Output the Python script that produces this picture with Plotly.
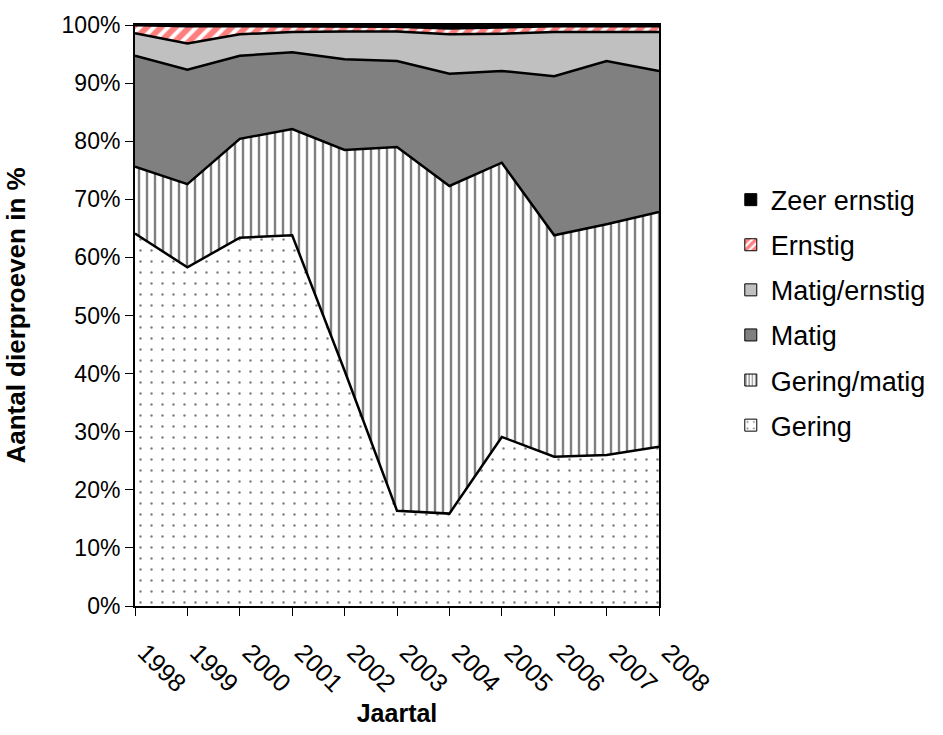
import plotly.graph_objects as go

years = [1998, 1999, 2000, 2001, 2002, 2003, 2004, 2005, 2006, 2007, 2008]
year_labels = [str(y) for y in years]
y_ticks = list(range(0, 101, 10))
y_tick_labels = [f"{v}%" for v in y_ticks]

# Values per category (percent of total)
gering = [64.1, 58.3, 63.4, 63.8, 40.5, 16.4, 15.9, 29.1, 25.7, 26.0, 27.4]
gering_matig = [11.5, 14.3, 17.0, 18.3, 38.0, 62.6, 56.4, 47.2, 38.1, 39.7, 40.4]
matig = [19.1, 19.7, 14.3, 13.2, 15.6, 14.8, 19.3, 15.8, 27.4, 28.1, 24.3]
matig_ernstig = [3.9, 4.5, 3.7, 3.5, 4.8, 5.1, 6.8, 6.4, 7.6, 5.0, 6.7]
ernstig = [1.4, 3.0, 1.4, 1.0, 0.9, 0.8, 1.0, 1.1, 1.0, 1.0, 1.0]
zeer_ernstig = [0.0, 0.1, 0.1, 0.1, 0.1, 0.2, 0.4, 0.3, 0.1, 0.1, 0.1]

series = [
    ("Gering", gering, dict(shape=".", fgcolor="#000000", bgcolor="white", size=11, solidity=0.04), "white"),
    ("Gering/matig", gering_matig, dict(shape="|", fgcolor="#000000", bgcolor="white", size=8, solidity=0.3), "white"),
    ("Matig", matig, None, "#808080"),
    ("Matig/ernstig", matig_ernstig, None, "#c0c0c0"),
    ("Ernstig", ernstig, dict(shape="/", fgcolor="#ff0000", bgcolor="white", size=10, solidity=0.6), "white"),
    ("Zeer ernstig", zeer_ernstig, None, "#000000"),
]

fig = go.Figure()
for name, vals, pat, col in series:
    kw = dict(
        x=years, y=vals, name=name, mode="lines", stackgroup="one",
        line=dict(color="black", width=2.5), fillcolor=col, showlegend=False,
        hoverinfo="skip",
    )
    if pat is not None:
        kw["fillpattern"] = pat
    fig.add_trace(go.Scatter(**kw))

# legend entries as square swatches (top of stack listed first)
for name, vals, pat, col in reversed(series):
    marker = dict(color=col, line=dict(color="black", width=1))
    if pat is not None:
        p = dict(pat)
        if p["shape"] == ".":
            p["size"] = 8
            p["solidity"] = 0.08
        if p["shape"] == "|":
            p["size"] = 4
            p["solidity"] = 0.35
        if p["shape"] == "/":
            p["size"] = 7
        marker["pattern"] = p
    fig.add_trace(go.Bar(x=[None], y=[None], name=name, marker=marker,
                         legendgroup=name, showlegend=True))

fig.update_layout(
    width=943, height=735,
    margin=dict(l=135, r=283, t=24, b=123),
    paper_bgcolor="white", plot_bgcolor="white",
    font=dict(family="Liberation Sans, Arial, sans-serif", color="black", size=23),
    legend=dict(
        x=1.137, y=0.505, xanchor="left", yanchor="middle",
        traceorder="grouped", tracegroupgap=7,
        font=dict(size=27), itemwidth=30, bgcolor="rgba(0,0,0,0)",
    ),
    showlegend=True,
)
fig.update_xaxes(
    range=[1998, 2008], tickvals=years, ticktext=year_labels,
    tickangle=45, ticks="outside", ticklen=8, tickwidth=1, tickcolor="black",
    tickfont=dict(size=25),
    showline=True, linecolor="black", linewidth=2, mirror=True,
    showgrid=False, zeroline=False,
    ticklabelstandoff=12, ticklabelshift=10,
    title=dict(text="<b>Jaartal</b>", font=dict(size=25), standoff=8),
)
fig.update_yaxes(
    range=[0, 100], tickvals=y_ticks, ticktext=y_tick_labels,
    ticks="outside", ticklen=8, tickwidth=1, tickcolor="black",
    showline=True, linecolor="black", linewidth=2, mirror=True,
    showgrid=False, zeroline=False,
    title=dict(text="<b>Aantal dierproeven in %</b>", font=dict(size=26), standoff=28),
)

fig.write_html("out.html")
